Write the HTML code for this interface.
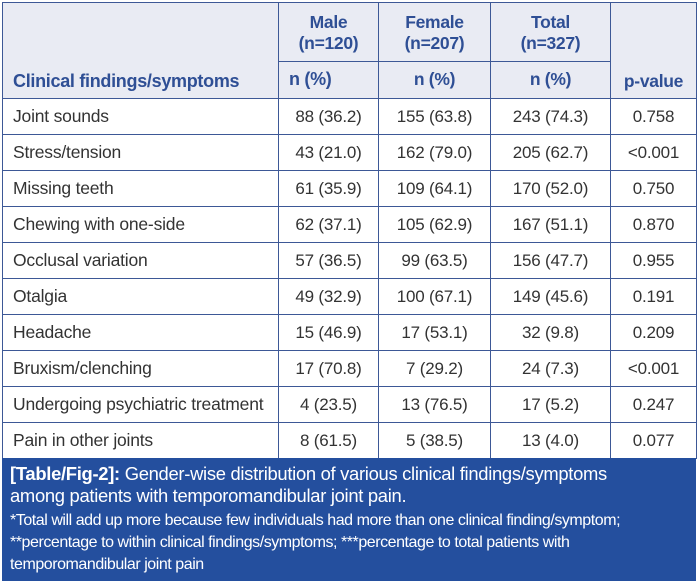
<!DOCTYPE html>
<html><head><style>
body{margin:0;width:698px;height:583px;background:#fff;font-family:"Liberation Sans",sans-serif;overflow:hidden}
table{position:absolute;left:2px;top:2px;border-collapse:collapse;table-layout:fixed;width:694px}
td{border:1px solid #3d5896;padding:0;font-size:17px;color:#333;text-align:center;height:35px;letter-spacing:-0.2px}
td:first-child{text-align:left;padding-left:10px;font-size:17.5px}
.h td{background:#e9ebf3;color:#2f4f95;font-weight:bold;letter-spacing:-0.3px;font-size:17.5px}
.h td:first-child{font-size:18px}
.cap{position:absolute;left:2px;top:458px;width:694px;height:123px;background:#244f9e;color:#fff}
</style></head><body>
<table>
<colgroup><col style="width:276px"><col style="width:100px"><col style="width:112px"><col style="width:120px"><col style="width:86px"></colgroup>
<tr class="h"><td rowspan="2" style="vertical-align:bottom;padding-bottom:6px;height:89px">Clinical findings/symptoms</td><td style="height:53px;line-height:21px;padding-top:3px">Male<br>(n=120)</td><td style="line-height:21px;padding-top:3px">Female<br>(n=207)</td><td style="line-height:21px;padding-top:3px">Total<br>(n=327)</td><td rowspan="2" style="vertical-align:bottom;padding-bottom:6px">p-value</td></tr>
<tr class="h"><td style="height:29px">n (%)</td><td>n (%)</td><td>n (%)</td></tr>
<tr><td>Joint sounds</td><td>88 (36.2)</td><td>155 (63.8)</td><td>243 (74.3)</td><td>0.758</td></tr>
<tr><td>Stress/tension</td><td>43 (21.0)</td><td>162 (79.0)</td><td>205 (62.7)</td><td>&lt;0.001</td></tr>
<tr><td>Missing teeth</td><td>61 (35.9)</td><td>109 (64.1)</td><td>170 (52.0)</td><td>0.750</td></tr>
<tr><td>Chewing with one-side</td><td>62 (37.1)</td><td>105 (62.9)</td><td>167 (51.1)</td><td>0.870</td></tr>
<tr><td>Occlusal variation</td><td>57 (36.5)</td><td>99 (63.5)</td><td>156 (47.7)</td><td>0.955</td></tr>
<tr><td>Otalgia</td><td>49 (32.9)</td><td>100 (67.1)</td><td>149 (45.6)</td><td>0.191</td></tr>
<tr><td>Headache</td><td>15 (46.9)</td><td>17 (53.1)</td><td>32 (9.8)</td><td>0.209</td></tr>
<tr><td>Bruxism/clenching</td><td>17 (70.8)</td><td>7 (29.2)</td><td>24 (7.3)</td><td>&lt;0.001</td></tr>
<tr><td>Undergoing psychiatric treatment</td><td>4 (23.5)</td><td>13 (76.5)</td><td>17 (5.2)</td><td>0.247</td></tr>
<tr><td>Pain in other joints</td><td>8 (61.5)</td><td>5 (38.5)</td><td>13 (4.0)</td><td>0.077</td></tr>
</table>
<div class="cap">
<div style="position:absolute;left:8px;top:5px;font-size:18.4px;line-height:22px;letter-spacing:-0.3px"><b>[Table/Fig-2]:</b> Gender-wise distribution of various clinical findings/symptoms<br>among patients with temporomandibular joint pain.</div>
<div style="position:absolute;left:8px;top:52px;font-size:16px;line-height:22px;letter-spacing:-0.45px">*Total will add up more because few individuals had more than one clinical finding/symptom;<br>**percentage to within clinical findings/symptoms; ***percentage to total patients with<br>temporomandibular joint pain</div>
</div>
</body></html>
